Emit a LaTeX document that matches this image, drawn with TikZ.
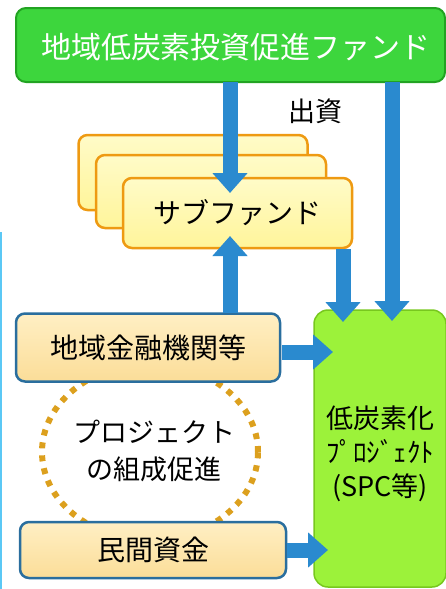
\documentclass[tikz,border=0pt]{standalone}
\usepackage{fontspec}
\newfontfamily\jp{Noto Sans CJK JP}
\usetikzlibrary{arrows.meta,shapes.geometric}
\definecolor{fundgreen}{HTML}{3DD63D}
\definecolor{fundedge}{HTML}{22A322}
\definecolor{subfill}{HTML}{FFF59A}
\definecolor{subtop}{HTML}{FFFBC8}
\definecolor{subedge}{HTML}{EE9A12}
\definecolor{bankfill}{HTML}{FBDD98}
\definecolor{banktop}{HTML}{FFEFC4}
\definecolor{bankedge}{HTML}{2A6E9E}
\definecolor{projfill}{HTML}{9CF23A}
\definecolor{projedge}{HTML}{78C81E}
\definecolor{arrblue}{HTML}{2A8ACF}
\definecolor{dotgold}{HTML}{DCA01E}
\definecolor{sideblue}{HTML}{5BC8F5}
\tikzset{
  fundbox/.style={draw=fundedge, line width=2pt, fill=fundgreen, rounded corners=10pt},
  subbox/.style={draw=subedge, line width=2.5pt, top color=subtop, bottom color=subfill, rounded corners=9pt},
  bankbox/.style={draw=bankedge, line width=2.5pt, top color=banktop, bottom color=bankfill, rounded corners=9pt, font=\jp\fontsize{28}{30}\selectfont},
  projbox/.style={draw=projedge, line width=1.5pt, fill=projfill, rounded corners=14pt},
  arr/.style={draw=arrblue, line width=15pt, -{Triangle[width=34pt,length=20pt]}},
  plain/.style={font=\jp\fontsize{27}{30}\selectfont},
}
\begin{document}
\begin{tikzpicture}[x=1pt,y=-1pt]
\useasboundingbox (0,0) rectangle (446,589);
% left side line
\draw[sideblue, line width=2pt] (1,232) -- (1,589);
% dotted ellipse
\node[draw=dotgold, line width=6pt, dash pattern=on 6pt off 7pt, ellipse, minimum width=216pt, minimum height=176pt, inner sep=0pt] (circ) at (150,452) {};
\node[align=center, font=\jp\fontsize{27}{37}\selectfont] (circtext) at (154,451) {プロジェクト\\の組成促進};
% top fund
\node[fundbox, minimum width=429pt, minimum height=74pt, inner sep=0pt] (fund) at (230.5,45) {};
\node[text=white, font=\jp\fontsize{30}{32}\selectfont] (fundtext) at (236,47) {地域低炭素投資促進ファンド};
% sub fund stack
\node[subbox, minimum width=229pt, minimum height=75pt] (sub3) at (193,172.5) {};
\node[subbox, minimum width=230pt, minimum height=73pt] (sub2) at (211,191.5) {};
\node[subbox, minimum width=229pt, minimum height=70pt, font=\jp\fontsize{28}{30}\selectfont] (sub1) at (237.5,213) {サブファンド};
% project box
\node[projbox, minimum width=132pt, minimum height=277pt, inner sep=0pt] (proj) at (380,448.5) {};
\node[align=center, font=\jp\fontsize{27}{34}\selectfont] (projtext) at (380,454) {低炭素化\\ﾌﾟﾛｼﾞｪｸﾄ\\(SPC等)};
% banks
\node[bankbox, minimum width=264pt, minimum height=68pt] (bank) at (148,347.5) {地域金融機関等};
\node[bankbox, minimum width=266pt, minimum height=56pt] (priv) at (153,550) {民間資金};
% label
\node[plain] (shushi) at (315,111) {出資};
% arrow end points
\coordinate (a1s) at (230,82);  \coordinate (a1e) at (230,193);
\coordinate (a2s) at (392,82);  \coordinate (a2e) at (392,321);
\coordinate (a3s) at (230,313); \coordinate (a3e) at (230,236);
\coordinate (a4s) at (343,249); \coordinate (a4e) at (343,322);
\coordinate (a5s) at (282,352); \coordinate (a5e) at (333,352);
\coordinate (a6s) at (287,550); \coordinate (a6e) at (328,550);
\draw[arr] (a1s) -- (a1e);
\draw[arr] (a2s) -- (a2e);
\draw[arr] (a3s) -- (a3e);
\draw[arr] (a4s) -- (a4e);
\draw[arr] (a5s) -- (a5e);
\draw[arr] (a6s) -- (a6e);
\end{tikzpicture}
\end{document}
